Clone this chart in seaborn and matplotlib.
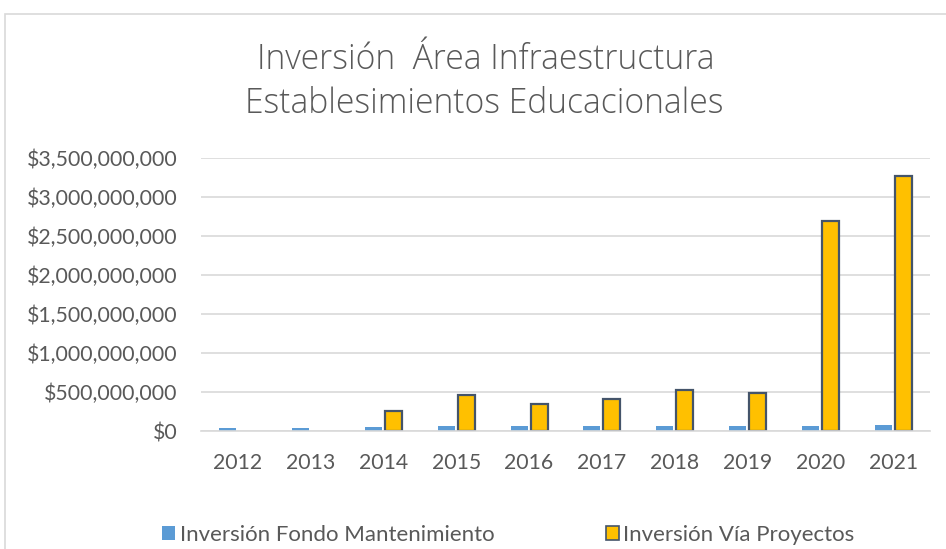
import matplotlib
matplotlib.use("Agg")
import matplotlib.pyplot as plt
import matplotlib.patches as mpatches
import matplotlib.ticker as mticker
import pandas as pd
import seaborn as sns

years = ["2012", "2013", "2014", "2015", "2016", "2017", "2018", "2019", "2020", "2021"]
fondo_mantenimiento = [35e6, 37e6, 48e6, 58e6, 61e6, 63e6, 66e6, 68e6, 70e6, 72e6]
via_proyectos = [0, 0, 260e6, 457e6, 346e6, 414e6, 526e6, 483e6, 2696e6, 3270e6]
series_names = ["Inversión Fondo Mantenimiento", "Inversión Vía Proyectos"]
title_lines = ["Inversión  Área Infraestructura", "Establesimientos Educacionales"]

df = pd.DataFrame({
    "Año": years * 2,
    "Monto": fondo_mantenimiento + via_proyectos,
    "Serie": [series_names[0]] * len(years) + [series_names[1]] * len(years),
})

sns.set_theme(style="white")
plt.rcParams["font.family"] = ["Lato", "DejaVu Sans"]

text_color = "#595959"
blue = "#5B9BD5"
gold = "#FFC000"
edge = "#44546A"

fig = plt.figure(figsize=(9.46, 5.49), dpi=100)
ax = fig.add_axes([201 / 946, 1 - 431 / 549, 729 / 946, 273 / 549])

sns.barplot(data=df, x="Año", y="Monto", hue="Serie", order=years,
            hue_order=series_names, palette=[blue, gold],
            width=0.55, gap=0.15, ax=ax, legend=False, saturation=1)

gold_rgb = matplotlib.colors.to_rgb(gold)
for bar in ax.patches:
    is_gold = all(abs(a - b) < 1e-3 for a, b in zip(bar.get_facecolor()[:3], gold_rgb))
    if is_gold and bar.get_height() > 0:
        bar.set_edgecolor(edge)
        bar.set_linewidth(1.6)
    else:
        bar.set_linewidth(0)
        if bar.get_height() == 0:
            bar.set_visible(False)

ax.set_ylim(0, 3.5e9)
ax.set_xlim(-0.5, 9.5)
ax.yaxis.set_major_locator(mticker.MultipleLocator(5e8))
ax.yaxis.set_major_formatter(mticker.FuncFormatter(lambda v, p: f"${v:,.0f}"))
ax.grid(axis="y", color="#D9D9D9", linewidth=1.2)
ax.set_axisbelow(True)
for side in ["top", "right", "left"]:
    ax.spines[side].set_visible(False)
ax.spines["bottom"].set_color("#D9D9D9")
ax.spines["bottom"].set_linewidth(1.2)
ax.set_xlabel("")
ax.set_ylabel("")
ax.tick_params(axis="both", length=0, labelsize=15.3, colors=text_color)
ax.tick_params(axis="y", pad=17)
ax.tick_params(axis="x", pad=15.5)

title_font = ["Open Sans", "DejaVu Sans"]
fig.text(486 / 946, 1 - 60 / 549, title_lines[0], ha="center", va="center",
         fontsize=24.2, color=text_color, family=title_font, fontweight="light")
fig.text(484 / 946, 1 - 104 / 549, title_lines[1], ha="center", va="center",
         fontsize=24.2, color=text_color, family=title_font, fontweight="light")

handles = [mpatches.Patch(facecolor=blue, edgecolor="none", label=series_names[0]),
           mpatches.Patch(facecolor=gold, edgecolor=edge, linewidth=1.2, label=series_names[1])]
fig.legend(handles=handles, loc="center left", bbox_to_anchor=(162 / 946, 1 - 535 / 549),
           ncol=2, frameon=False, fontsize=16, labelcolor=text_color,
           borderpad=0, borderaxespad=0,
           handlelength=0.6, handleheight=0.6, handletextpad=0.2, columnspacing=5.0)

fig.patches.append(mpatches.Rectangle((5 / 946, -0.1), 1.1, 1 - 14 / 549 + 0.1,
                                      transform=fig.transFigure, fill=False,
                                      edgecolor="#D9D9D9", linewidth=1.2))

fig.savefig("out.png", dpi=100)
